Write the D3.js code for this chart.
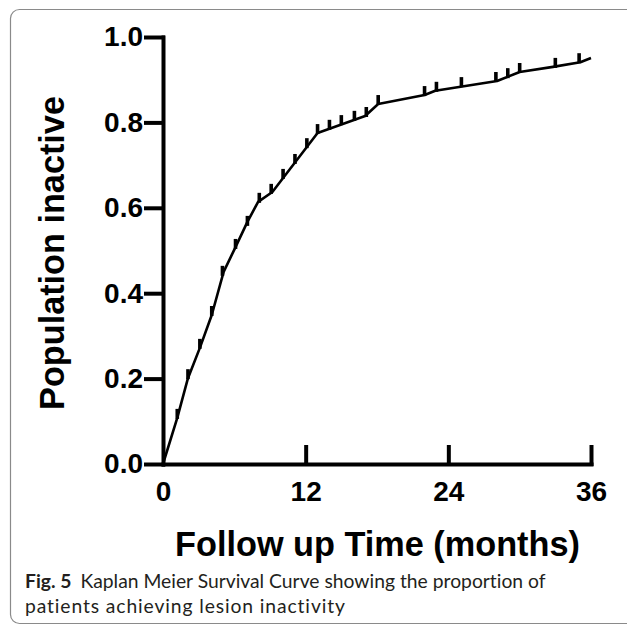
<!DOCTYPE html>
<html><head><meta charset="utf-8">
<script src="https://cdn.jsdelivr.net/npm/d3@7"></script>
<style>
html,body{margin:0;padding:0;background:#fff;}
svg{display:block;}
</style></head>
<body>
<svg id="chart" width="627" height="626"></svg>
<script>
// ---- data ----
const curveTimes  = [0, 1.2, 2.1, 3.1, 4.1, 5.1, 6.1, 7.1, 8.0, 9.2, 13.0, 17.0, 18.1, 22.0, 22.9, 28.1, 30.0, 32.8, 35.1, 36];
const curveValues = [0, 0.108, 0.201, 0.272, 0.349, 0.450, 0.508, 0.567, 0.614, 0.637, 0.775, 0.815, 0.843, 0.864, 0.874, 0.897, 0.918, 0.930, 0.941, 0.951];
const censorTimes  = [1.2, 2.1, 3.1, 4.1, 5.0, 6.1, 7.1, 8.1, 9.1, 10.1, 11.1, 12.1, 13.0, 14.0, 15.0, 16.1, 17.1, 18.1, 22.0, 23.0, 25.1, 28.0, 29.0, 30.0, 33.0, 35.0];
const censorValues = [0.108, 0.201, 0.272, 0.349, 0.443, 0.506, 0.560, 0.614, 0.635, 0.670, 0.705, 0.742, 0.775, 0.785, 0.796, 0.806, 0.815, 0.843, 0.864, 0.874, 0.885, 0.897, 0.906, 0.918, 0.930, 0.941];
const xTickValues = [0, 12, 24, 36];
const yTickValues = [0, 0.2, 0.4, 0.6, 0.8, 1.0];
const xTitle = "Follow up Time (months)";
const yTitle = "Population inactive";
const captionBold = "Fig. 5";
const captionLine1 = "Kaplan Meier Survival Curve showing the proportion of";
const captionLine2 = "patients achieving lesion inactivity";

const svg = d3.select("#chart");
const AXF = "'Liberation Sans', Arial, Helvetica, sans-serif";
const CAPF = "Lato, 'Open Sans', sans-serif";

// frame
svg.append("rect").attr("x", 10.5).attr("y", 9.5).attr("width", 700).attr("height", 614)
  .attr("rx", 9).attr("fill", "none").attr("stroke", "#8a8a8a").attr("stroke-width", 1.2);

const x = d3.scaleLinear().domain([0, 36]).range([163, 591]);
const y = d3.scaleLinear().domain([0, 1]).range([464, 37]);

// y axis
const gy = svg.append("g").attr("transform", "translate(163,0)")
  .call(d3.axisLeft(y).tickValues(yTickValues).tickFormat(d3.format(".1f"))
    .tickSize(17).tickSizeOuter(0).tickPadding(3));
// x axis
const gx = svg.append("g").attr("transform", "translate(0,464)")
  .call(d3.axisBottom(x).tickValues(xTickValues).tickFormat(d3.format("d"))
    .tickSize(-17).tickSizeOuter(0).tickPadding(17));

[gy, gx].forEach(g => {
  g.select(".domain").attr("stroke", "#000").attr("stroke-width", 4).attr("stroke-linecap", "square");
  g.selectAll(".tick line").attr("stroke", "#000").attr("stroke-width", 4).attr("stroke-linecap", "square");
  g.selectAll(".tick text").attr("fill", "#000").style("font-family", AXF)
    .style("font-weight", "bold").style("font-size", "28px");
});
gx.selectAll(".tick").filter(d => d === 0).select("line").remove();

// curve
const line = d3.line().x((d, i) => x(curveTimes[i])).y((d, i) => y(curveValues[i]));
svg.append("path").datum(curveTimes).attr("d", line)
  .attr("fill", "none").attr("stroke", "#000").attr("stroke-width", 2.6)
  .attr("stroke-linejoin", "round");

// censor marks
svg.append("g").selectAll("line").data(censorTimes).join("line")
  .attr("x1", d => x(d)).attr("x2", d => x(d))
  .attr("y1", (d, i) => y(censorValues[i]) + 1)
  .attr("y2", (d, i) => y(censorValues[i]) - 9)
  .attr("stroke", "#000").attr("stroke-width", 3.6);

function fit(sel, target) {
  const fs = parseFloat(sel.style("font-size"));
  const w = sel.node().getComputedTextLength();
  sel.style("font-size", (fs * target / w) + "px");
}

// axis titles
const xt = svg.append("text").attr("x", 377.5).attr("y", 556).attr("text-anchor", "middle")
  .style("font-family", AXF).style("font-weight", "bold").style("font-size", "36px")
  .attr("fill", "#000").text(xTitle);
fit(xt, 405);

const yt = svg.append("text").attr("transform", "translate(64,253) rotate(-90)")
  .attr("text-anchor", "middle")
  .style("font-family", AXF).style("font-weight", "bold").style("font-size", "36px")
  .attr("fill", "#000").text(yTitle);
fit(yt, 314);

// caption
const c1 = svg.append("text").attr("x", 25).attr("y", 588)
  .style("font-family", CAPF).style("font-size", "19.5px")
  .style("font-variant-ligatures", "none").attr("fill", "#231f20");
c1.append("tspan").style("font-weight", "bold").text(captionBold);
c1.append("tspan").attr("dx", 9).text(captionLine1);
fit(c1, 512);
const c2 = svg.append("text").attr("x", 25).attr("y", 613)
  .style("font-family", CAPF).style("font-size", c1.style("font-size"))
  .style("font-variant-ligatures", "none").attr("fill", "#231f20")
  .attr("textLength", 320).attr("lengthAdjust", "spacing")
  .text(captionLine2);
</script>
</body></html>
